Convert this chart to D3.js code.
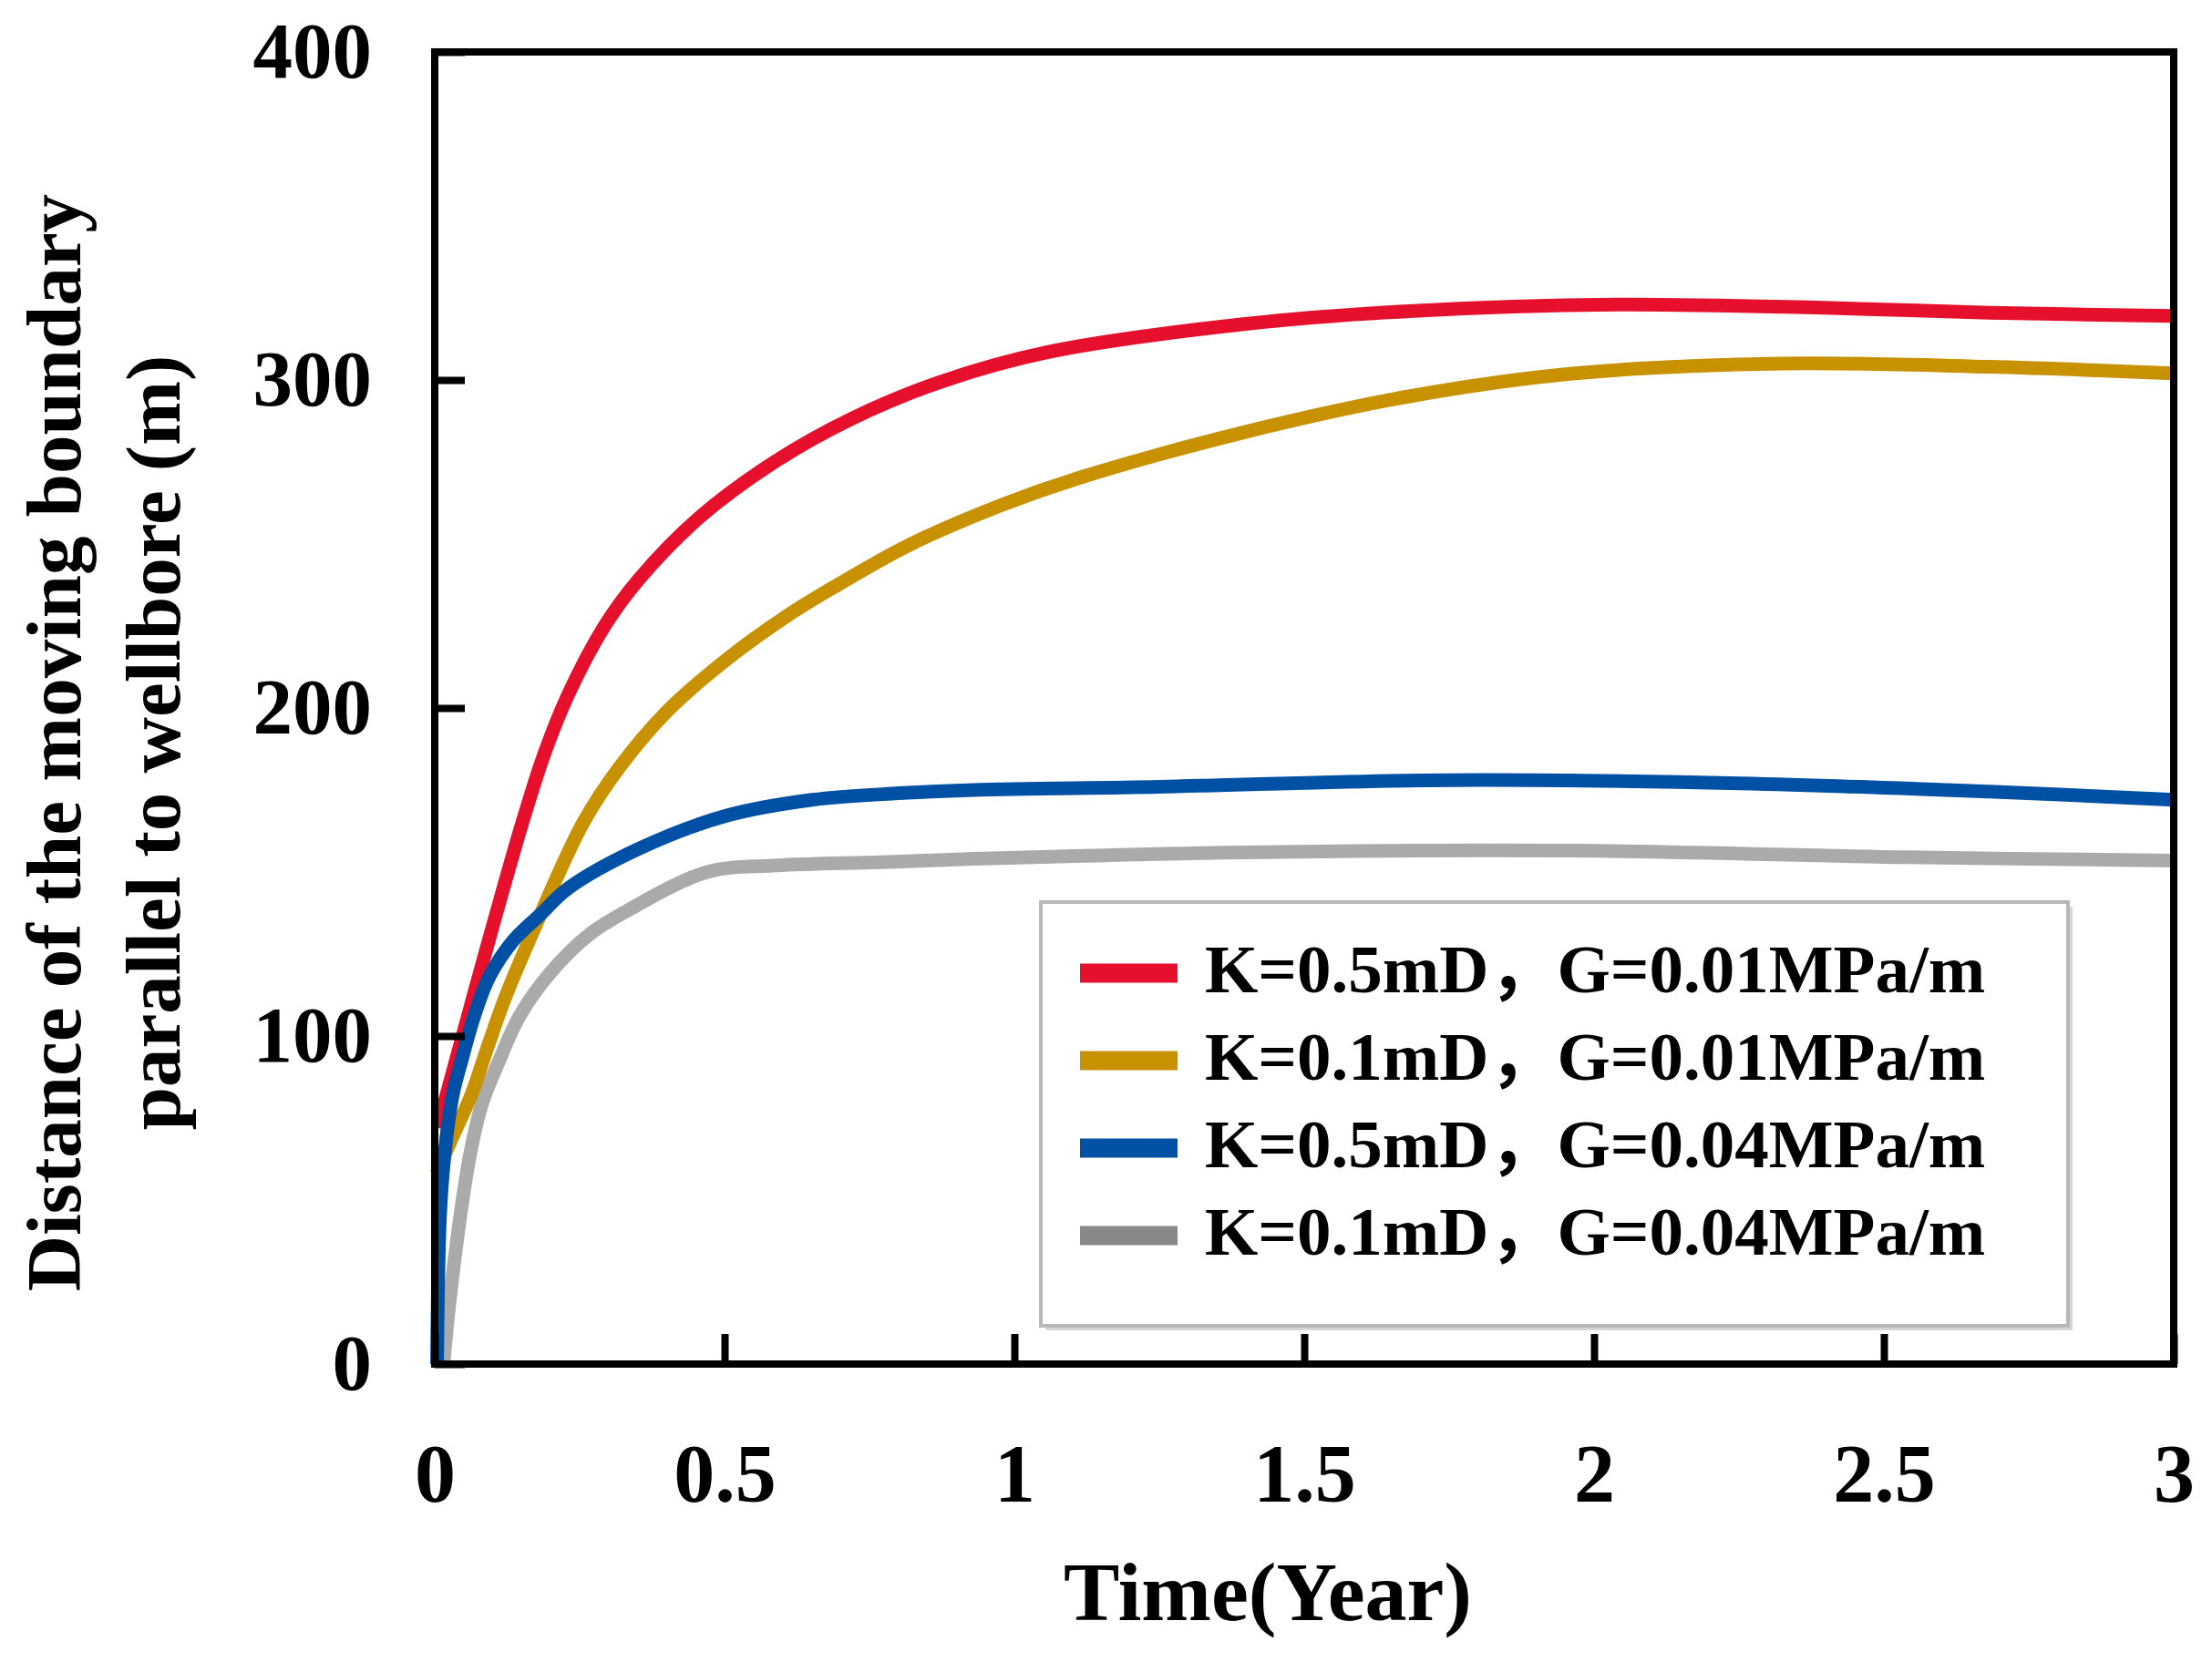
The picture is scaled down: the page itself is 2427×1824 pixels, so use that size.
<!DOCTYPE html>
<html>
<head>
<meta charset="utf-8">
<script src="https://cdn.jsdelivr.net/npm/d3@7"></script>
<style>
  body { margin: 0; background: #fff; }
  text { font-family: "Liberation Serif", "Times New Roman", "Noto Sans CJK SC", serif; font-weight: bold; }
</style>
</head>
<body>
<script>
"use strict";

// values: time in years, distance in metres
const red_t  = [0.005, 0.068, 0.104, 0.151, 0.189, 0.23, 0.293, 0.351, 0.456, 0.586, 0.717, 0.874, 1.058, 1.395, 1.681, 2.038, 2.396, 2.682, 3.0];
const red_v  = [72, 113, 136, 165, 186, 204, 225, 239, 258, 275, 288, 299.5, 308.5, 317, 321, 323, 322, 320.5, 319.5];

const gold_t = [0.003, 0.03, 0.063, 0.09, 0.12, 0.17, 0.256, 0.319, 0.398, 0.505, 0.607, 0.69, 0.822, 0.98, 1.109, 1.395, 1.681, 1.967, 2.324, 2.682, 3.0];
const gold_v = [58, 69, 82, 96, 111, 132, 165, 182, 198.5, 215, 228, 237, 250, 262, 270, 284, 295, 302, 305, 304, 302];

const blue_t = [0.004, 0.009, 0.017, 0.031, 0.047, 0.068, 0.094, 0.135, 0.182, 0.23, 0.351, 0.5, 0.651, 0.8, 0.93, 1.25, 1.752, 2.253, 2.682, 3.0];
const blue_v = [0, 45, 64, 82, 93, 106, 118, 129, 137, 145, 157, 167, 172, 174, 175, 176, 178, 177, 174.5, 172];

const grey_t = [0.015, 0.025, 0.044, 0.06, 0.081, 0.11, 0.146, 0.198, 0.267, 0.33, 0.47, 0.59, 0.77, 0.93, 1.395, 1.967, 2.539, 3.0];
const grey_v = [0, 18, 45, 63, 79, 92, 106, 119, 131, 138, 150, 152, 153, 154, 156, 156.5, 154.5, 153.5];

const legend_labels = ["K=0.5mD，G=0.01MPa/m", "K=0.1mD，G=0.01MPa/m", "K=0.5mD，G=0.04MPa/m", "K=0.1mD，G=0.04MPa/m"];
const x_ticks = [0, 0.5, 1, 1.5, 2, 2.5, 3];
const y_ticks = [0, 100, 200, 300, 400];

draw_chart();

function draw_chart () {
    const series = [
        { name: legend_labels[0], t: red_t,  v: red_v,  color: "#e6102d", swatch: "#e6102d" },
        { name: legend_labels[1], t: gold_t, v: gold_v, color: "#c89100", swatch: "#c89100" },
        { name: legend_labels[2], t: blue_t, v: blue_v, color: "#0050a5", swatch: "#0050a5" },
        { name: legend_labels[3], t: grey_t, v: grey_v, color: "#aaaaaa", swatch: "#888888" }
    ];

    const wSvg = 2427, hSvg = 1824;
    const pLeft = 477, pRight = 2385, pTop = 57, pBottom = 1497;

    let xScale = d3.scaleLinear().domain([0, 3]).range([pLeft, pRight]);
    let yScale = d3.scaleLinear().domain([0, 400]).range([pBottom, pTop]);

    let svg = d3.select("body").append("svg")
        .attr("width", wSvg).attr("height", hSvg);

    svg.append("rect").attr("width", wSvg).attr("height", hSvg).attr("fill", "#fff");

    // legend box sits under the curves
    let lg = svg.append("g");
    lg.append("rect")
        .attr("x", 1147).attr("y", 995).attr("width", 1127).attr("height", 465)
        .attr("fill", "#d6d6d6");
    lg.append("rect")
        .attr("x", 1142).attr("y", 990).attr("width", 1127).attr("height", 465)
        .attr("fill", "#fff").attr("stroke", "#b8b8b8").attr("stroke-width", 4);

    // curves: grey first, blue on top
    let line = d3.line()
        .x(d => xScale(d[0]))
        .y(d => yScale(d[1]))
        .curve(d3.curveCatmullRom.alpha(0.5));

    let order = [3, 0, 1, 2];
    svg.append("g").selectAll("path")
        .data(order.map(i => series[i]))
        .enter()
        .append("path")
        .attr("d", s => line(s.t.map((t, i) => [t, s.v[i]])))
        .attr("fill", "none")
        .attr("stroke", s => s.color)
        .attr("stroke-width", 15)
        .attr("stroke-linejoin", "round");

    // legend entries
    let rows = lg.selectAll("g.row")
        .data(series)
        .enter()
        .append("g")
        .attr("class", "row")
        .attr("transform", (d, i) => `translate(0, ${1089 + i * 96})`);

    rows.append("line")
        .attr("x1", 1185).attr("x2", 1292)
        .attr("y1", -21).attr("y2", -21)
        .attr("stroke", d => d.swatch)
        .attr("stroke-width", 21);

    rows.append("text")
        .attr("x", 1322).attr("y", 0)
        .attr("font-size", 75)
        .attr("fill", "#000")
        .text(d => d.name);

    // axes with inward ticks
    let xAxis = svg.append("g")
        .attr("transform", `translate(0, ${pBottom})`)
        .call(d3.axisBottom(xScale).tickValues(x_ticks).tickFormat(d => String(d))
            .tickSizeInner(-33).tickSizeOuter(0).tickPadding(87));
    xAxis.attr("font-family", null).attr("font-size", null);
    xAxis.select(".domain").remove();
    xAxis.selectAll("line").attr("stroke", "#000").attr("stroke-width", 8);
    xAxis.selectAll("text").attr("font-size", 90).attr("fill", "#000");

    let yAxis = svg.append("g")
        .attr("transform", `translate(${pLeft}, 0)`)
        .call(d3.axisLeft(yScale).tickValues(y_ticks).tickFormat(d => String(d))
            .tickSizeInner(-33).tickSizeOuter(0).tickPadding(69));
    yAxis.attr("font-family", null).attr("font-size", null);
    yAxis.select(".domain").remove();
    yAxis.selectAll("line").attr("stroke", "#000").attr("stroke-width", 8);
    yAxis.selectAll("text").attr("font-size", 87).attr("fill", "#000");

    // frame
    svg.append("rect")
        .attr("x", pLeft).attr("y", pTop)
        .attr("width", pRight - pLeft).attr("height", pBottom - pTop)
        .attr("fill", "none").attr("stroke", "#000").attr("stroke-width", 8);

    // titles
    svg.append("text")
        .attr("x", 1391).attr("y", 1778)
        .attr("text-anchor", "middle")
        .attr("font-size", 92)
        .text("Time(Year)");

    let yTitle = ["Distance of the moving boundary", "parallel to wellbore (m)"];
    svg.selectAll("text.ytitle")
        .data(yTitle)
        .enter()
        .append("text")
        .attr("class", "ytitle")
        .attr("transform", (d, i) => `translate(${i == 0 ? 88 : 197}, 815) rotate(-90)`)
        .attr("text-anchor", "middle")
        .attr("font-size", 85)
        .text(d => d);
}
</script>
</body>
</html>
